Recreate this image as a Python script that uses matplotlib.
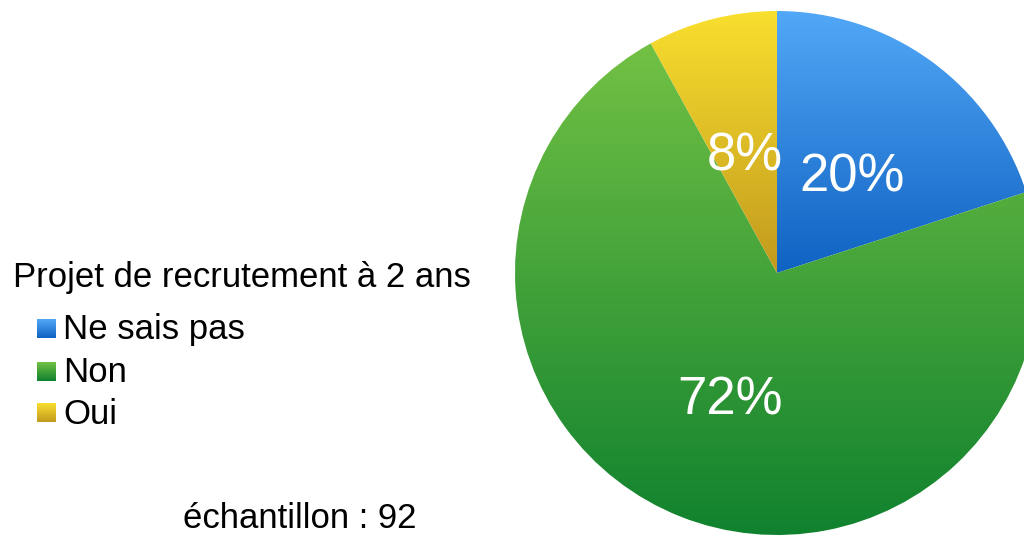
import numpy as np
import matplotlib
matplotlib.use("Agg")
import matplotlib.pyplot as plt
from matplotlib.colors import LinearSegmentedColormap

categories = ["Ne sais pas", "Non", "Oui"]
values = [20, 72, 8]
legend_title = "Projet de recrutement à 2 ans"
sample_text = "échantillon : 92"

# gradient colours (top, bottom)
grads = [("#52a8f7", "#0f62c2"), ("#72c144", "#0f812e"), ("#f9df2e", "#c29a1e")]

plt.rcParams['font.family'] = ['Liberation Sans', 'DejaVu Sans']

W, H = 1024, 537
fig = plt.figure(figsize=(W / 100, H / 100), dpi=100)
ax = fig.add_axes([0, 0, 1, 1])

cx, cy, r = 777, H - 273, 262
wedges, texts, autotexts = ax.pie(values, center=(cx, cy), radius=r, startangle=90,
                                  counterclock=False, autopct="%1.0f%%", pctdistance=0.49,
                                  textprops=dict(color="white", fontsize=38))
ax.set_xlim(0, W)
ax.set_ylim(0, H)
ax.set_aspect("auto")
ax.axis("off")

grad = np.linspace(0, 1, 256).reshape(-1, 1)
for w, (top, bot) in zip(wedges, grads):
    w.set_facecolor("none")
    w.set_edgecolor("none")
    verts = w.get_patch_transform().transform(w.get_path().vertices)
    x0, x1 = verts[:, 0].min(), verts[:, 0].max()
    y0, y1 = verts[:, 1].min(), verts[:, 1].max()
    cmap = LinearSegmentedColormap.from_list("g", [top, bot])
    im = ax.imshow(grad, cmap=cmap, extent=(x0, x1, y0, y1), origin="upper",
                   aspect="auto", zorder=1, interpolation="bilinear")
    im.set_clip_path(w)
for t in autotexts:
    t.set_zorder(5)
    x, y = t.get_position()
    t.set_position((x, y - 8))

# legend
ax.text(13, H - 287, legend_title, fontsize=25, color="black", va="baseline", ha="left")
rows = [329, 372, 413]
for yc, cat, (top, bot) in zip(rows, categories, grads):
    cmap = LinearSegmentedColormap.from_list("g", [top, bot])
    ax.imshow(grad, cmap=cmap, extent=(37, 56, H - yc - 9.5, H - yc + 9.5), origin="upper",
              aspect="auto", zorder=2)
    ax.text(63, H - yc - 1, cat, fontsize=25, color="black", va="center", ha="left")

ax.text(300, H - 528, sample_text, fontsize=25, color="black", va="baseline", ha="center")
ax.set_xlim(0, W)
ax.set_ylim(0, H)

fig.savefig("out.png", dpi=100)
